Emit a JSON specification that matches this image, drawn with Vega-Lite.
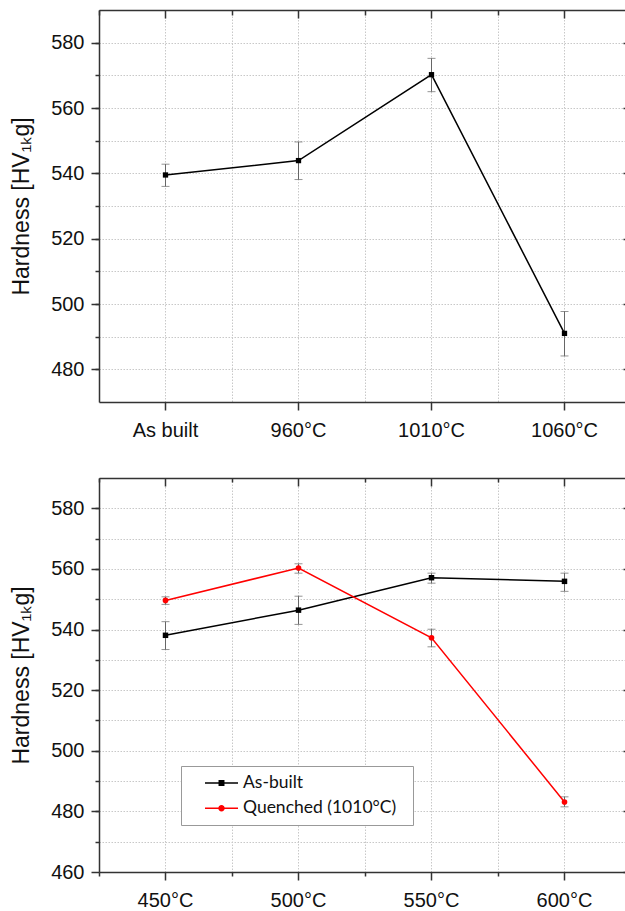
{
  "$schema": "https://vega.github.io/schema/vega-lite/v6.json",
  "padding": {"left": 10, "top": 9, "right": 0, "bottom": 0},
  "spacing": 37,
  "resolve": {"scale": {"color": "independent", "shape": "independent", "fill": "independent", "stroke": "independent"}, "legend": {"color": "independent", "shape": "independent", "fill": "independent", "stroke": "independent"}},
  "config": {
    "view": {"stroke": null},
    "axis": {
      "domainColor": "#333333", "domainWidth": 1.5,
      "tickColor": "#333333", "tickWidth": 1.5,
      "labelFont": "Liberation Sans", "labelFontSize": 20, "labelColor": "#111111",
      "titleFont": "Liberation Sans", "titleFontSize": 23, "titleFontWeight": "normal", "titleColor": "#111111",
      "gridColor": "#c8c8c8", "gridDash": [1.5, 1.5], "gridWidth": 1
    },
    "legend": {
      "orient": "none", "legendX": 82, "legendY": 288, "title": null,
      "fillColor": "#ffffff", "strokeColor": "#999999", "padding": 8,
      "labelFont": "Lato", "labelFontSize": 17.5, "labelColor": "#111111",
      "symbolSize": 272.25, "symbolOffset": 23.5, "labelOffset": 12.5, "rowPadding": 7.3,
      "symbolStrokeWidth": 1.5, "symbolOpacity": 1
    }
  },
  "vconcat": [
    {
      "width": 532,
      "height": 392,
      "data": {"values": [
        {"treatment": "As built", "hardness": 539.5, "lo": 536.0, "hi": 542.8},
        {"treatment": "960°C", "hardness": 543.9, "lo": 538.1, "hi": 549.6},
        {"treatment": "1010°C", "hardness": 570.2, "lo": 565.0, "hi": 575.2},
        {"treatment": "1060°C", "hardness": 491.0, "lo": 484.1, "hi": 497.7}
      ]},
      "resolve": {"axis": {"x": "independent", "y": "independent"}},
      "layer": [
        {
          "mark": {"type": "rule", "color": "#666666", "strokeWidth": 1},
          "encoding": {
            "x": {"field": "treatment", "type": "nominal", "sort": null,
              "scale": {"type": "band", "paddingInner": 0, "paddingOuter": 0},
              "axis": {"orient": "bottom", "title": null, "tickSize": 8, "labelPadding": 10, "labelAngle": 0, "grid": false, "bandPosition": 0.5}},
            "y": {"field": "lo", "type": "quantitative",
              "scale": {"domain": [470, 590], "nice": false, "zero": false},
              "axis": {"orient": "left", "title": "Hardness [HV₁ₖg]", "values": [480, 500, 520, 540, 560, 580], "tickSize": 8, "labelPadding": 7, "grid": false, "titlePadding": 17}},
            "y2": {"field": "hi"}
          }
        },
        {
          "mark": {"type": "tick", "orient": "horizontal", "size": 8, "thickness": 1, "color": "#666666"},
          "encoding": {
            "x": {"field": "treatment", "type": "nominal", "sort": null,
              "axis": {"orient": "top", "title": null, "labels": false, "tickSize": -8, "grid": true, "bandPosition": 0.5}},
            "y": {"field": "lo", "type": "quantitative",
              "axis": {"orient": "right", "title": null, "labels": false, "tickSize": -8, "values": [480, 500, 520, 540, 560, 580], "grid": false}}
          }
        },
        {
          "mark": {"type": "tick", "orient": "horizontal", "size": 8, "thickness": 1, "color": "#666666"},
          "encoding": {
            "x": {"field": "treatment", "type": "nominal", "sort": null,
              "axis": {"orient": "bottom", "title": null, "labels": false, "domain": false, "ticks": false, "grid": true, "bandPosition": 0}},
            "y": {"field": "hi", "type": "quantitative",
              "axis": {"orient": "left", "title": null, "labels": false, "domain": false, "tickSize": 4, "values": [480, 490, 500, 510, 520, 530, 540, 550, 560, 570, 580], "grid": true}}
          }
        },
        {
          "mark": {"type": "line", "color": "#000000", "strokeWidth": 1.5},
          "encoding": {
            "x": {"field": "treatment", "type": "nominal", "sort": null,
              "axis": {"orient": "top", "title": null, "labels": false, "domain": false, "tickSize": -5, "grid": false, "bandPosition": 0}},
            "y": {"field": "hardness", "type": "quantitative",
              "axis": {"orient": "right", "title": null, "labels": false, "domain": false, "tickSize": -4, "values": [470, 480, 490, 500, 510, 520, 530, 540, 550, 560, 570, 580, 590], "grid": false}}
          }
        },
        {
          "mark": {"type": "point", "shape": "square", "filled": true, "size": 28, "color": "#000000", "opacity": 1},
          "encoding": {
            "x": {"field": "treatment", "type": "nominal", "sort": null, "axis": null},
            "y": {"field": "hardness", "type": "quantitative", "axis": null}
          }
        }
      ]
    },
    {
      "width": 532,
      "height": 394,
      "data": {"values": [
        {"series": "As-built", "temperature": "450°C", "hardness": 538.1, "lo": 533.4, "hi": 542.6},
        {"series": "As-built", "temperature": "500°C", "hardness": 546.4, "lo": 541.7, "hi": 551.0},
        {"series": "As-built", "temperature": "550°C", "hardness": 557.1, "lo": 555.3, "hi": 558.6},
        {"series": "As-built", "temperature": "600°C", "hardness": 555.9, "lo": 552.6, "hi": 558.6},
        {"series": "Quenched (1010°C)", "temperature": "450°C", "hardness": 549.6, "lo": 548.3, "hi": 550.8},
        {"series": "Quenched (1010°C)", "temperature": "500°C", "hardness": 560.3, "lo": 558.6, "hi": 561.7},
        {"series": "Quenched (1010°C)", "temperature": "550°C", "hardness": 537.3, "lo": 534.3, "hi": 540.1},
        {"series": "Quenched (1010°C)", "temperature": "600°C", "hardness": 483.1, "lo": 481.5, "hi": 484.8}
      ]},
      "resolve": {"axis": {"x": "independent", "y": "independent"}},
      "layer": [
        {
          "mark": {"type": "rule", "color": "#666666", "strokeWidth": 1},
          "encoding": {
            "x": {"field": "temperature", "type": "nominal", "sort": null,
              "scale": {"type": "band", "paddingInner": 0, "paddingOuter": 0, "domain": ["450°C", "500°C", "550°C", "600°C"]},
              "axis": {"orient": "bottom", "title": null, "tickSize": 8, "labelPadding": 10, "labelAngle": 0, "grid": false, "bandPosition": 0.5}},
            "y": {"field": "lo", "type": "quantitative",
              "scale": {"domain": [460, 590], "nice": false, "zero": false},
              "axis": {"orient": "left", "title": "Hardness [HV₁ₖg]", "values": [460, 480, 500, 520, 540, 560, 580], "tickSize": 8, "labelPadding": 7, "grid": false, "titlePadding": 17}},
            "y2": {"field": "hi"}
          }
        },
        {
          "mark": {"type": "tick", "orient": "horizontal", "size": 8, "thickness": 1, "color": "#666666"},
          "encoding": {
            "x": {"field": "temperature", "type": "nominal", "sort": null,
              "axis": {"orient": "top", "title": null, "labels": false, "tickSize": -8, "grid": true, "bandPosition": 0.5}},
            "y": {"field": "lo", "type": "quantitative",
              "axis": {"orient": "right", "title": null, "labels": false, "tickSize": -8, "values": [460, 480, 500, 520, 540, 560, 580], "grid": false}}
          }
        },
        {
          "mark": {"type": "tick", "orient": "horizontal", "size": 8, "thickness": 1, "color": "#666666"},
          "encoding": {
            "x": {"field": "temperature", "type": "nominal", "sort": null,
              "axis": {"orient": "bottom", "title": null, "labels": false, "domain": false, "tickSize": 4, "grid": true, "bandPosition": 0}},
            "y": {"field": "hi", "type": "quantitative",
              "axis": {"orient": "left", "title": null, "labels": false, "domain": false, "tickSize": 4, "values": [470, 480, 490, 500, 510, 520, 530, 540, 550, 560, 570, 580], "grid": true}}
          }
        },
        {
          "mark": {"type": "line", "strokeWidth": 1.5},
          "encoding": {
            "x": {"field": "temperature", "type": "nominal", "sort": null,
              "axis": {"orient": "top", "title": null, "labels": false, "domain": false, "tickSize": -4, "grid": false, "bandPosition": 0}},
            "y": {"field": "hardness", "type": "quantitative",
              "axis": {"orient": "right", "title": null, "labels": false, "domain": false, "tickSize": -4, "values": [470, 480, 490, 500, 510, 520, 530, 540, 550, 560, 570, 580, 590], "grid": false}},
            "stroke": {"field": "series", "type": "nominal",
              "scale": {"domain": ["As-built", "Quenched (1010°C)"], "range": ["#000000", "#ff0000"]}}
          }
        },
        {
          "mark": {"type": "point", "filled": true, "opacity": 0, "size": 272.25},
          "encoding": {
            "x": {"field": "temperature", "type": "nominal", "sort": null, "axis": null},
            "y": {"field": "hardness", "type": "quantitative", "axis": null},
            "fill": {"field": "series", "type": "nominal",
              "scale": {"domain": ["As-built", "Quenched (1010°C)"], "range": ["#000000", "#ff0000"]}},
            "shape": {"field": "series", "type": "nominal",
              "scale": {"domain": ["As-built", "Quenched (1010°C)"], "range": ["M-2,0H2M-0.27,-0.27H0.27V0.27H-0.27ZM21.85,0", "M-2,0H2M0.3,0A0.3,0.3 0 1,1 -0.3,0A0.3,0.3 0 1,1 0.3,0ZM21.85,0"]}}
          }
        },
        {
          "transform": [{"filter": "datum.series === 'As-built'"}],
          "mark": {"type": "point", "shape": "square", "filled": true, "size": 30, "color": "#000000", "opacity": 1},
          "encoding": {
            "x": {"field": "temperature", "type": "nominal", "sort": null, "axis": null},
            "y": {"field": "hardness", "type": "quantitative", "axis": null}
          }
        },
        {
          "transform": [{"filter": "datum.series !== 'As-built'"}],
          "mark": {"type": "point", "shape": "circle", "filled": true, "size": 32, "color": "#ff0000", "opacity": 1},
          "encoding": {
            "x": {"field": "temperature", "type": "nominal", "sort": null, "axis": null},
            "y": {"field": "hardness", "type": "quantitative", "axis": null}
          }
        }
      ]
    }
  ]
}
